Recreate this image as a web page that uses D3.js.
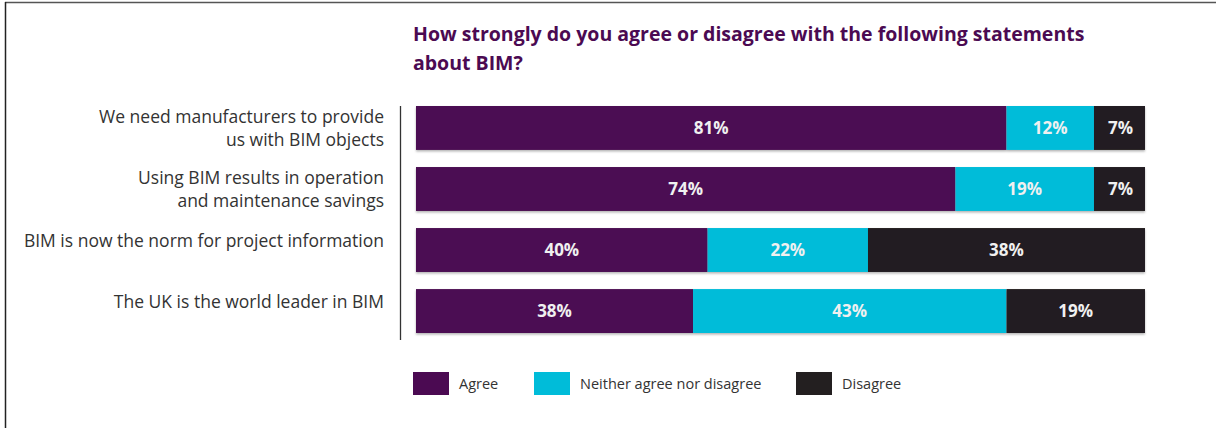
<!DOCTYPE html>
<html>
<head>
<meta charset="utf-8">
<script src="https://cdn.jsdelivr.net/npm/d3@7"></script>
<style>
  body { margin: 0; background: #fff; }
  svg { display: block; font-family: "Open Sans", Lato, sans-serif; }
</style>
</head>
<body>
<svg id="chart" width="1216" height="428"></svg>
<script>
// ---- data ----
const statements = [
  ["We need manufacturers to provide", "us with BIM objects"],
  ["Using BIM results in operation", "and maintenance savings"],
  ["BIM is now the norm for project information"],
  ["The UK is the world leader in BIM"]
];
const agree    = [81, 74, 40, 38];
const neither  = [12, 19, 22, 43];
const disagree = [7, 7, 38, 19];
const seriesNames = ["Agree", "Neither agree nor disagree", "Disagree"];
const seriesColors = ["#4b0a52", "#00bcd9", "#231f20"];

const svg = d3.select("#chart");

// frame (top + left edge like the clipped original)
svg.append("line").attr("x1", 5).attr("x2", 1216).attr("y1", 2.5).attr("y2", 2.5)
  .attr("stroke", "#555").attr("stroke-width", 1.5);
svg.append("line").attr("x1", 5.5).attr("x2", 5.5).attr("y1", 2).attr("y2", 428)
  .attr("stroke", "#222").attr("stroke-width", 1.5);

// title
const title = svg.append("text").attr("x", 413).attr("y", 41)
  .attr("fill", "#4b0a52").attr("font-weight", "bold").attr("font-size", 19.5);
title.append("tspan").text("How strongly do you agree or disagree with the following statements");
title.append("tspan").attr("x", 413).attr("dy", 29).text("about BIM?");

// scales
const x = d3.scaleLinear().domain([0, 100]).range([416, 1145]);
const y = d3.scaleBand().domain(d3.range(statements.length)).range([106, 333]).paddingInner(0.28).paddingOuter(0);

const rows = statements.map((s, i) => {
  const vals = [agree[i], neither[i], disagree[i]];
  let acc = 0;
  return vals.map((v, k) => { const seg = { i, k, v, x0: acc, x1: acc + v }; acc += v; return seg; });
});

// shadow under bars
svg.append("defs").append("filter").attr("id", "sh")
  .append("feDropShadow").attr("dx", 0).attr("dy", 1.5).attr("stdDeviation", 1)
  .attr("flood-color", "#000").attr("flood-opacity", 0.3);

const g = svg.append("g");
rows.forEach(row => {
  const rg = g.append("g").attr("filter", "url(#sh)");
  rg.selectAll("rect").data(row).join("rect")
    .attr("x", d => x(d.x0))
    .attr("width", d => x(d.x1) - x(d.x0))
    .attr("y", d => y(d.i))
    .attr("height", y.bandwidth())
    .attr("fill", d => seriesColors[d.k]);
  g.selectAll(null).data(row).join("text")
    .attr("x", d => (x(d.x0) + x(d.x1)) / 2 + (d.k === 2 && d.v < 10 ? 1 : 0))
    .attr("y", d => y(d.i) + y.bandwidth() / 2)
    .attr("dy", "0.36em")
    .attr("text-anchor", "middle")
    .attr("fill", "#f0f0f0").attr("font-weight", "bold").attr("font-size", 17)
    .text(d => d.v + "%");
});

// axis line
svg.append("line").attr("x1", 400.5).attr("x2", 400.5).attr("y1", 106).attr("y2", 340)
  .attr("stroke", "#333").attr("stroke-width", 1.3);

// category labels
statements.forEach((lines, i) => {
  const t = svg.append("text").attr("x", 384).attr("y", y(i) + (lines.length > 1 ? 17 : 19))
    .attr("text-anchor", "end").attr("fill", "#333").attr("font-size", 17.5);
  lines.forEach((l, j) => t.append("tspan").attr("x", 384).attr("dy", j ? 23 : 0).text(l));
});

// legend
const legendX = [413, 534, 796];
const lg = svg.append("g").selectAll("g").data(seriesNames).join("g")
  .attr("transform", (d, k) => `translate(${legendX[k]},372)`);
lg.append("rect").attr("width", 36).attr("height", 23).attr("fill", (d, k) => seriesColors[k]);
lg.append("text").attr("x", 46).attr("y", 12).attr("dy", "0.36em")
  .attr("fill", "#333").attr("font-size", 14.5).text(d => d);
</script>
</body>
</html>
